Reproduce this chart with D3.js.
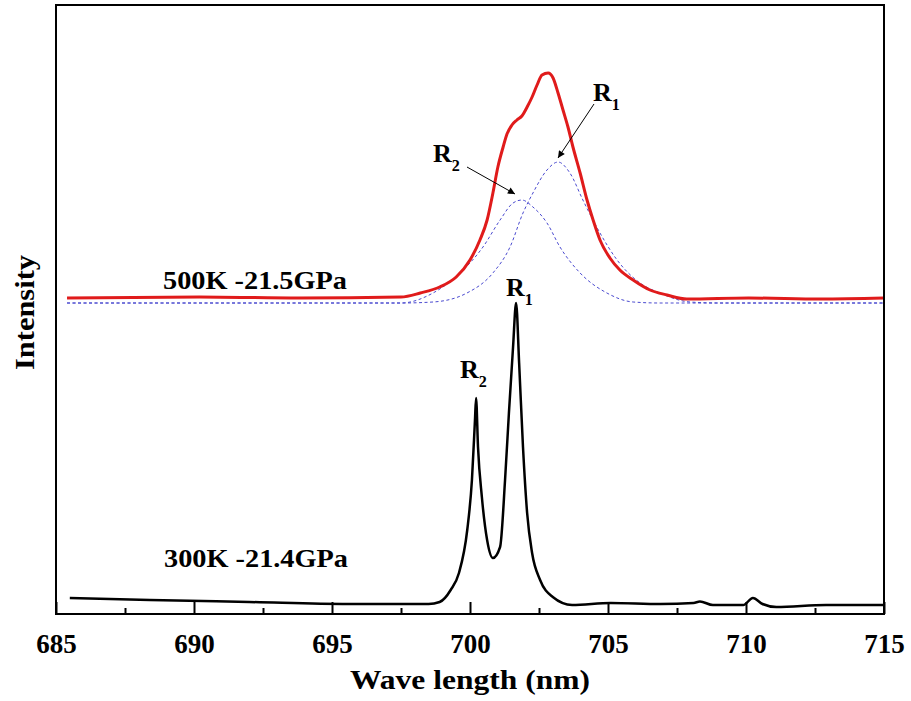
<!DOCTYPE html>
<html>
<head>
<meta charset="utf-8">
<script src="https://cdn.jsdelivr.net/npm/d3@7"></script>
<style>
  body { margin: 0; background: #fff; }
  text { font-family: "Liberation Serif", "Times New Roman", serif; font-weight: bold; fill: #000; }
</style>
</head>
<body>
<div id="container"></div>
<script>
// wavelength (nm) / intensity (a.u.)
const wave300 = [685.5, 688.4, 692.0, 695.6, 698.5, 698.9, 699.3, 699.6, 699.9, 700.07, 700.18, 700.22,
  700.29, 700.43, 700.62, 700.83, 701.09, 701.27, 701.41, 701.56, 701.67, 701.78, 701.92, 702.07,
  702.25, 702.54, 703.0, 703.7, 705.1, 706.9, 708.1, 708.33, 708.8, 709.9, 710.25, 710.6, 711.1, 712.9, 715.0];
const int300 = [16, 14, 12, 10, 10, 12, 24, 41, 84, 134, 194, 216,
  167, 117, 74, 56, 67, 134, 201, 267, 311, 251, 167, 101,
  61, 34, 17, 9, 11, 10, 11, 12.5, 9, 9, 16, 10, 7, 9, 9];

const wave500 = [685.4, 690.2, 693.8, 697.5, 698.2, 698.9, 699.5, 700.0, 700.36, 700.62, 700.83, 701.01,
  701.2, 701.34, 701.52, 701.7, 701.88, 702.07, 702.25, 702.43, 702.61, 702.83, 703.01, 703.19, 703.37,
  703.55, 703.73, 703.99, 704.24, 704.46, 704.71, 705.07, 705.43, 705.91, 706.52, 707.14, 707.86, 710.1,
  712.7, 715.0];
const int500 = [316, 317, 316, 317, 321, 327, 337, 354, 374, 394, 421, 447,
  467, 480, 489, 494, 498, 507, 517, 529, 539, 541, 536, 521, 504,
  487, 467, 441, 414, 394, 374, 356, 344, 334, 324, 319, 315, 316,
  315, 316];

const waveFitR2 = [685.4, 697.5, 698.66, 699.64, 700.47, 701.09, 701.56, 701.88, 702.28, 702.79, 703.26,
  703.99, 704.96, 705.91, 706.88, 715.0];
const intFitR2 = [311, 311, 321, 341, 367, 394, 411, 414, 407, 391, 367, 341, 321, 312, 311, 311];

const waveFitR1 = [685.4, 697.5, 698.66, 699.89, 700.83, 701.45, 701.92, 702.28, 702.79, 703.19, 703.62,
  704.09, 704.71, 705.33, 706.16, 706.88, 707.97, 709.06, 715.0];
const intFitR1 = [311, 311, 312, 321, 341, 367, 401, 421, 444, 452, 441, 414, 381, 354, 331, 321, 312, 311, 311];

const majorTicks = [685, 690, 695, 700, 705, 710, 715];
const minorTicks = [687.5, 692.5, 697.5, 702.5, 707.5, 712.5];

const width = 911, height = 701;
const m = { left: 56, right: 884, top: 5, bottom: 614 };

const svg = d3.select("#container").append("svg")
  .attr("width", width).attr("height", height);

const x = d3.scaleLinear().domain([685, 715]).range([m.left, m.right]);
const y = d3.scaleLinear().domain([0, 609]).range([m.bottom, m.top]);

const zip = (a, b) => a.map((v, i) => [v, b[i]]);
const line = d3.line().x(d => x(d[0])).y(d => y(d[1])).curve(d3.curveMonotoneX);

svg.append("path").datum(zip(waveFitR2, intFitR2))
  .attr("d", line).attr("fill", "none").attr("stroke", "#4a4ad0")
  .attr("stroke-width", 1).attr("stroke-dasharray", "3,2.5");
svg.append("path").datum(zip(waveFitR1, intFitR1))
  .attr("d", line).attr("fill", "none").attr("stroke", "#4a4ad0")
  .attr("stroke-width", 1).attr("stroke-dasharray", "3,2.5");
svg.append("path").datum(zip(wave500, int500))
  .attr("d", line).attr("fill", "none").attr("stroke", "#e01b1b")
  .attr("stroke-width", 3).attr("stroke-linejoin", "round");
svg.append("path").datum(zip(wave300, int300))
  .attr("d", line).attr("fill", "none").attr("stroke", "#000")
  .attr("stroke-width", 2.5).attr("stroke-linejoin", "round");

// frame
svg.append("rect")
  .attr("x", m.left).attr("y", m.top).attr("width", m.right - m.left).attr("height", m.bottom - m.top)
  .attr("fill", "none").attr("stroke", "#000").attr("stroke-width", 2);

// inward ticks on the bottom axis
const xAxis = d3.axisBottom(x).tickValues(majorTicks).tickSize(-12).tickPadding(20)
  .tickFormat(d3.format("d"));
const gx = svg.append("g").attr("transform", `translate(0,${m.bottom})`).call(xAxis);
gx.select(".domain").remove();
gx.selectAll(".tick line").attr("stroke-width", 2);
gx.selectAll(".tick text")
  .style("font-size", "27px").style("font-family", "Liberation Serif, serif")
  .style("font-weight", "bold").attr("fill", "#000");

const gm = svg.append("g").attr("transform", `translate(0,${m.bottom})`)
  .call(d3.axisBottom(x).tickValues(minorTicks).tickSize(-6).tickFormat(""));
gm.select(".domain").remove();
gm.selectAll(".tick line").attr("stroke-width", 2);

// the original lettering is a little wider than Liberation Serif, so stretch it
const label = (sel, len) => sel.attr("textLength", len).attr("lengthAdjust", "spacingAndGlyphs");

label(svg.append("text").attr("x", 350).attr("y", 689)
  .style("font-size", "28px").text("Wave length (nm)"), 240);
label(svg.append("text").attr("transform", "translate(34,370) rotate(-90)")
  .style("font-size", "28px").text("Intensity"), 115);

label(svg.append("text").attr("x", 163).attr("y", 289).style("font-size", "26px").text("500K -21.5GPa"), 184);
label(svg.append("text").attr("x", 164).attr("y", 567).style("font-size", "26px").text("300K -21.4GPa"), 184);

// peak labels
const peakLabel = (px, py, sub, size) => {
  const t = svg.append("text").attr("x", px).attr("y", py).style("font-size", size + "px");
  t.append("tspan").text("R");
  t.append("tspan").attr("dy", size * 0.35).style("font-size", (size * 0.62) + "px").text(sub);
};
peakLabel(593, 101, "1", 26);
peakLabel(433, 162, "2", 26);
peakLabel(506, 296, "1", 26);
peakLabel(460, 378, "2", 26);

// arrows
svg.append("defs").append("marker")
  .attr("id", "arr").attr("viewBox", "0 0 10 10").attr("refX", 10).attr("refY", 5)
  .attr("markerWidth", 12).attr("markerHeight", 7).attr("markerUnits", "userSpaceOnUse")
  .attr("orient", "auto")
  .append("path").attr("d", "M0,0L10,5L0,10z").attr("fill", "#000");

svg.append("line").attr("x1", 467).attr("y1", 167).attr("x2", 515).attr("y2", 194)
  .attr("stroke", "#000").attr("stroke-width", 1).attr("marker-end", "url(#arr)");
svg.append("line").attr("x1", 594).attr("y1", 104).attr("x2", 558).attr("y2", 158)
  .attr("stroke", "#000").attr("stroke-width", 1).attr("marker-end", "url(#arr)");
</script>
</body>
</html>
